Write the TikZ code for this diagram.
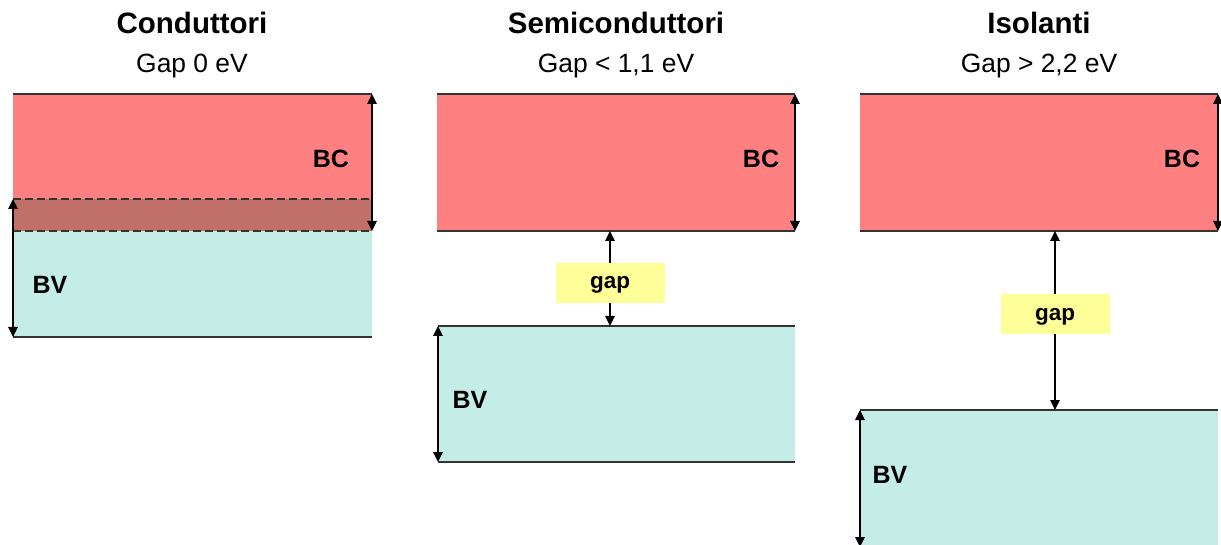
\documentclass[tikz,border=0pt]{standalone}
\usepackage{fontspec}
\setmainfont{Liberation Sans}
\usetikzlibrary{arrows.meta,positioning}

\definecolor{bandred}{RGB}{255,128,128}
\definecolor{bandcyan}{RGB}{196,237,231}
\definecolor{bandmix}{RGB}{192,112,104}
\definecolor{gapyellow}{RGB}{255,255,153}

\tikzset{
  band/.style={inner sep=0pt, outer sep=0pt, anchor=north west, minimum width=359pt, minimum height=137pt},
  bcband/.style={band, fill=bandred},
  bvband/.style={band, fill=bandcyan},
  bandedge/.style={line width=1.4pt, black!80},
  bandarrow/.style={line width=1.2pt, {Triangle[length=10pt,width=9.5pt]}-{Triangle[length=10pt,width=9.5pt]}},
  gaparrow/.style={line width=1.2pt, -{Triangle[length=10pt,width=9.5pt]}},
  paneltitle/.style={anchor=base, font=\bfseries\fontsize{29.5}{32}\selectfont},
  panelsub/.style={anchor=base, font=\fontsize{26.4}{30}\selectfont},
  bandlabel/.style={font=\bfseries\fontsize{25}{28}\selectfont},
  gapbox/.style={fill=gapyellow, inner sep=0pt, minimum width=109pt, minimum height=40pt,
    text height=12pt, text depth=0pt, font=\bfseries\fontsize{22.5}{24}\selectfont},
}

\begin{document}
\begin{tikzpicture}[x=1pt, y=-1pt]
\useasboundingbox (0,0) rectangle (1221,545);

% Conduttori
\node[paneltitle] (t1) at (192,34) {Conduttori};
\node[panelsub] (s1) at (192,73) {Gap 0 eV};
\node[bcband] (bc1) at (13,94) {};
\node[bvband, minimum height=138pt] (bv1) at (13,199) {};
\fill[bandmix] (bv1.north west) rectangle (bc1.south east);
\draw[bandedge] (bc1.north west) -- (bc1.north east);
\draw[bandedge] (bv1.south west) -- (bv1.south east);
\draw[bandedge, dashed, dash pattern=on 8pt off 4pt] (bv1.north west) -- (bv1.north east);
\draw[bandedge, dashed, dash pattern=on 8pt off 4pt] (bc1.south west) -- (bc1.south east);
\draw[bandarrow] (bc1.north east) -- (bc1.south east);
\draw[bandarrow] (bv1.north west) -- (bv1.south west);
\node[bandlabel] (bcl1) at (331,159) {BC};
\node[bandlabel] (bvl1) at (50,285) {BV};

% Semiconduttori
\node[paneltitle] (t2) at (616,34) {Semiconduttori};
\node[panelsub] (s2) at (616,73) {Gap < 1,1 eV};
\node[bcband, minimum width=358pt] (bc2) at (437,94) {};
\node[bvband, minimum width=357pt, minimum height=136pt] (bv2) at (438,326) {};
\draw[bandedge] (bc2.north west) -- (bc2.north east);
\draw[bandedge] (bc2.south west) -- (bc2.south east);
\draw[bandedge] (bv2.north west) -- (bv2.north east);
\draw[bandedge] (bv2.south west) -- (bv2.south east);
\draw[bandarrow] (bc2.north east) -- (bc2.south east);
\draw[bandarrow] (bv2.north west) -- (bv2.south west);
\node[bandlabel] (bcl2) at (761,159) {BC};
\node[bandlabel] (bvl2) at (470,400) {BV};
\node[gapbox] (gap2) at (610,283) {gap};
\draw[gaparrow] (gap2.north) -- (gap2.north |- bc2.south);
\draw[gaparrow] (gap2.south) -- (gap2.south |- bv2.north);

% Isolanti
\node[paneltitle] (t3) at (1039,34) {Isolanti};
\node[panelsub] (s3) at (1039,73) {Gap > 2,2 eV};
\node[bcband, minimum width=358pt] (bc3) at (860,94) {};
\node[bvband, minimum width=358pt] (bv3) at (860,410) {};
\draw[bandedge] (bc3.north west) -- (bc3.north east);
\draw[bandedge] (bc3.south west) -- (bc3.south east);
\draw[bandedge] (bv3.north west) -- (bv3.north east);
\draw[bandarrow] (bc3.north east) -- (bc3.south east);
\draw[bandarrow] (bv3.north west) -- (bv3.south west);
\node[bandlabel] (bcl3) at (1182,159) {BC};
\node[bandlabel] (bvl3) at (890,475) {BV};
\node[gapbox] (gap3) at (1055,314) {gap};
\draw[gaparrow] (gap3.north) -- (gap3.north |- bc3.south);
\draw[gaparrow] (gap3.south) -- (gap3.south |- bv3.north);

\end{tikzpicture}
\end{document}
